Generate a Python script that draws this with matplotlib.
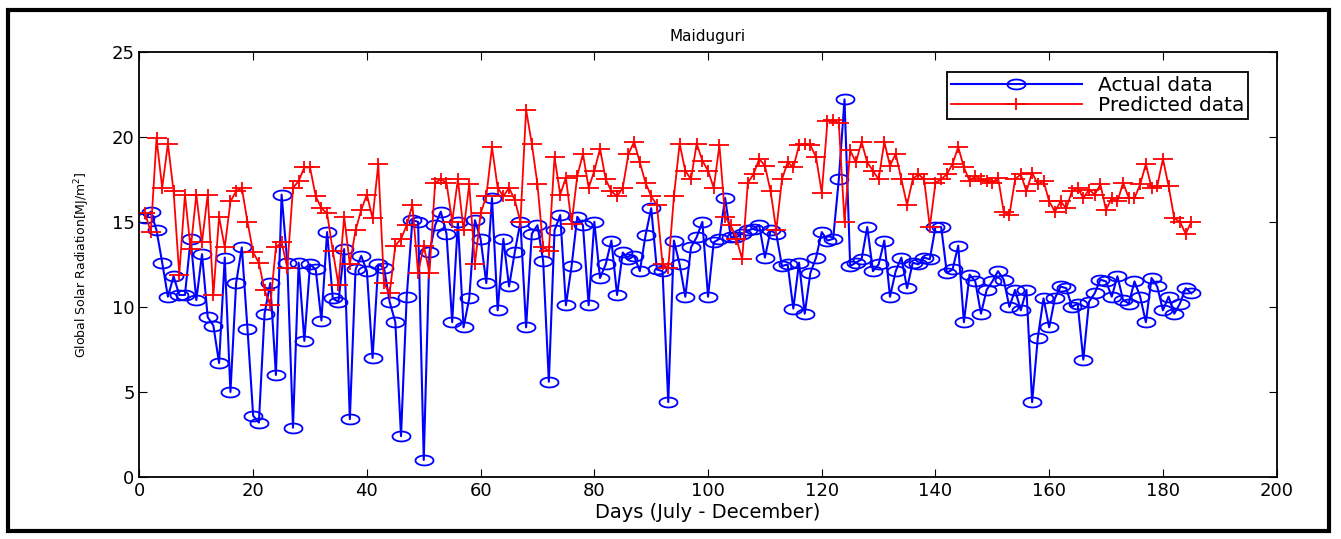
import numpy as np
import matplotlib
matplotlib.use("Agg")
import matplotlib.pyplot as plt
from matplotlib.path import Path
from matplotlib.patches import Rectangle

# global solar radiation, Maiduguri, day 1..185 (July - December)
actual = [15.2, 15.6, 14.5, 12.6, 10.6, 11.8, 10.7, 10.7, 14.0, 10.4,
          13.1, 9.4, 8.9, 6.7, 12.9, 5.0, 11.4, 13.5, 8.7, 3.6,
          3.2, 9.6, 11.4, 6.0, 16.6, 12.6, 2.9, 12.6, 8.0, 12.5,
          12.2, 9.2, 14.4, 10.5, 10.3, 13.4, 3.4, 12.2, 13.0, 12.1,
          7.0, 12.5, 12.3, 10.3, 9.1, 2.4, 10.6, 15.1, 15.0, 1.0,
          13.2, 14.8, 15.6, 14.3, 9.1, 15.0, 8.8, 10.5, 15.1, 14.0,
          11.4, 16.4, 9.8, 14.0, 11.2, 13.2, 15.0, 8.8, 14.3, 14.8,
          12.7, 5.6, 14.5, 15.4, 10.1, 12.4, 15.3, 14.8, 10.1, 15.0,
          11.7, 12.5, 13.9, 10.7, 13.2, 12.8, 13.0, 12.1, 14.2, 15.8,
          12.2, 12.1, 4.4, 13.9, 12.5, 10.6, 13.5, 14.1, 15.0, 10.6,
          13.8, 14.0, 16.4, 14.1, 14.1, 14.3, 14.5, 14.6, 14.8, 12.9,
          14.5, 14.3, 12.4, 12.5, 9.9, 12.6, 9.6, 12.0, 12.9, 14.4,
          13.9, 14.0, 17.5, 22.2, 12.4, 12.6, 12.8, 14.7, 12.1, 12.5,
          13.9, 10.6, 12.1, 12.9, 11.1, 12.6, 12.5, 12.9, 12.8, 14.7,
          14.7, 12.0, 12.2, 13.6, 9.1, 11.9, 11.5, 9.6, 11.0, 11.5,
          12.1, 11.6, 10.0, 11.0, 9.8, 11.0, 4.4, 8.2, 10.5, 8.8,
          10.5, 11.2, 11.1, 10.0, 10.2, 6.9, 10.3, 10.8, 11.6, 11.5,
          10.6, 11.8, 10.4, 10.2, 11.5, 10.6, 9.1, 11.7, 11.2, 9.8,
          10.6, 9.6, 10.2, 11.1, 10.8]

predicted = [15.5, 14.4, 19.9, 17.0, 19.6, 16.8, 11.9, 16.6, 13.4, 16.6,
             13.8, 16.6, 10.7, 15.3, 13.5, 16.2, 16.8, 17.0, 15.0, 13.2,
             12.6, 11.0, 10.1, 13.5, 13.8, 12.3, 17.0, 17.4, 18.2, 18.2,
             16.5, 15.8, 15.5, 13.3, 11.3, 15.3, 12.5, 14.5, 15.7, 16.6,
             15.2, 18.4, 11.4, 10.8, 13.6, 14.0, 14.8, 16.0, 12.0, 13.6,
             12.0, 17.3, 17.5, 17.3, 15.0, 17.5, 14.5, 17.2, 12.5, 15.5,
             16.5, 19.4, 17.0, 16.5, 17.0, 16.3, 15.0, 21.6, 19.6, 17.2,
             13.5, 13.3, 18.8, 16.6, 17.6, 14.9, 17.7, 19.0, 17.0, 18.0,
             19.3, 17.5, 16.8, 16.5, 17.0, 19.0, 19.7, 18.5, 17.3, 16.5,
             16.0, 12.5, 12.3, 16.5, 19.6, 18.0, 17.5, 19.6, 18.6, 18.0,
             17.0, 19.5, 15.3, 14.8, 14.0, 12.8, 17.3, 17.8, 18.7, 18.3,
             16.8, 14.5, 17.5, 18.5, 18.2, 19.5, 19.6, 19.5, 18.8, 16.7,
             20.9, 21.0, 20.8, 15.0, 19.2, 18.5, 19.7, 18.5, 18.0, 17.5,
             19.7, 18.3, 19.0, 17.5, 16.0, 17.5, 17.8, 17.5, 14.7, 17.3,
             17.5, 17.8, 18.4, 19.4, 18.2, 17.4, 17.7, 17.5, 17.4, 17.3,
             17.6, 15.6, 15.4, 17.5, 17.8, 16.8, 17.9, 17.2, 17.4, 16.2,
             15.6, 16.2, 15.8, 16.8, 17.0, 16.4, 16.9, 16.6, 17.2, 15.7,
             16.4, 16.2, 17.3, 16.4, 16.4, 17.2, 18.4, 17.0, 17.1, 18.7,
             17.1, 15.2, 15.0, 14.3, 15.0]

days = np.arange(1, len(actual) + 1)

# wide markers (the original picture was stretched sideways)
t = np.linspace(0, 2 * np.pi, 40)
ellipse = Path(np.column_stack([np.cos(t), 0.55 * np.sin(t)]))
plus = Path([(-1, 0), (1, 0), (0, -0.55), (0, 0.55)],
            [Path.MOVETO, Path.LINETO, Path.MOVETO, Path.LINETO])

fig = plt.figure(figsize=(13.41, 5.39), dpi=100)
ax = fig.add_axes([0.104, 0.115, 0.848, 0.789])

ax.plot(days, actual, color="blue", lw=1.5, marker=ellipse, ms=13,
        mfc="none", mec="blue", mew=1.3, label="Actual data")
ax.plot(days, predicted, color="red", lw=1.3, marker=plus, ms=15,
        mec="red", mew=1.3, label="Predicted data")

ax.set_xlim(0, 200)
ax.set_ylim(0, 25)
ax.set_xticks(np.arange(0, 201, 20))
ax.set_yticks(np.arange(0, 26, 5))
ax.tick_params(direction="in", top=True, right=True, labelsize=13, length=6)
for s in ax.spines.values():
    s.set_linewidth(1.3)

ax.set_title("Maiduguri", fontsize=11, pad=8)
ax.set_xlabel("Days (July - December)", fontsize=14, labelpad=2)
ax.set_ylabel("Global Solar Radiation[MJ/m$^2$]", fontsize=9, labelpad=14)

leg = ax.legend(loc="upper right", bbox_to_anchor=(0.984, 0.977), fontsize=14.5,
                handlelength=6.5, fancybox=False, framealpha=1, borderpad=0.2,
                labelspacing=0.05, handletextpad=0.8)
leg.get_frame().set_edgecolor("black")
leg.get_frame().set_linewidth(1.3)

fig.patches.append(Rectangle((0.006, 0.015), 0.985, 0.967, transform=fig.transFigure,
                             fill=False, lw=3, ec="black"))

fig.savefig("out.png", dpi=100)
